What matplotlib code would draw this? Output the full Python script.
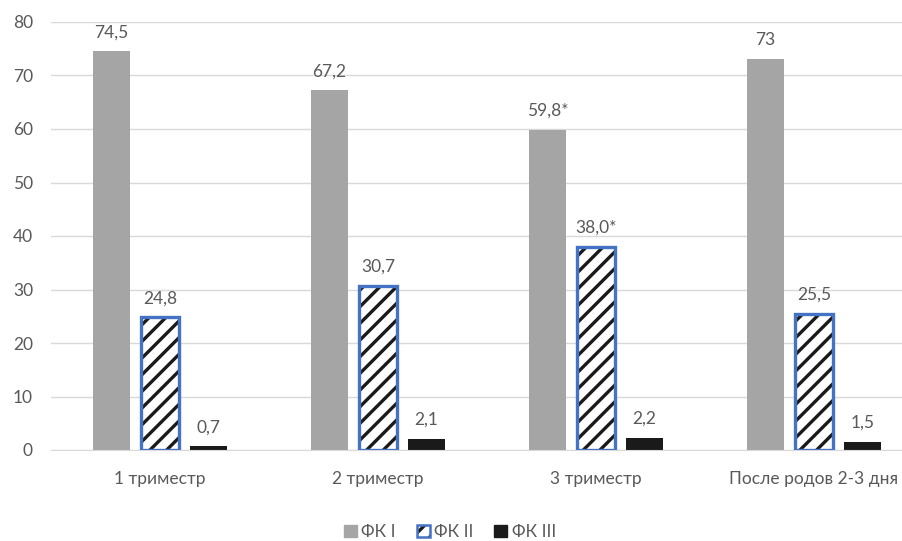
import matplotlib
matplotlib.use("Agg")
import matplotlib.pyplot as plt
import numpy as np
from matplotlib.patches import Patch
from matplotlib.legend_handler import HandlerTuple

plt.rcParams['font.family'] = ['Lato', 'Noto Sans', 'DejaVu Sans']
plt.rcParams['hatch.linewidth'] = 2.4

categories = ["1 триместр", "2 триместр", "3 триместр", "После родов 2-3 дня"]
series_names = ["ФК I", "ФК II", "ФК III"]
fk1 = [74.5, 67.2, 59.8, 73.0]
fk2 = [24.8, 30.7, 38.0, 25.5]
fk3 = [0.7, 2.1, 2.2, 1.5]
fk1_labels = ["74,5", "67,2", "59,8*", "73"]
fk2_labels = ["24,8", "30,7", "38,0*", "25,5"]
fk3_labels = ["0,7", "2,1", "2,2", "1,5"]
yticks = [0, 10, 20, 30, 40, 50, 60, 70, 80]

W, H = 903, 541
fig = plt.figure(figsize=(W / 100, H / 100), dpi=100)
ax = fig.add_axes([51 / W, (H - 450) / H, 872 / W, 428 / H])

x = np.arange(len(categories))
bw = 0.17
step = 0.222
txt = '#595959'
fs = 12.5

b1 = ax.bar(x - step, fk1, bw, color='#A5A5A5', zorder=2)
# hatched fill (black stripes), then the blue outline on top
ax.bar(x, fk2, bw, facecolor='white', edgecolor='#1a1a1a', linewidth=0,
       hatch='//', zorder=2)
b2 = ax.bar(x, fk2, bw, fill=False, edgecolor='#4472C4', linewidth=2.4, zorder=3)
b3 = ax.bar(x + step, fk3, bw, color='#1a1a1a', zorder=2)

for bars, labels in ((b1, fk1_labels), (b2, fk2_labels), (b3, fk3_labels)):
    for rect, lab in zip(bars, labels):
        ax.annotate(lab, (rect.get_x() + rect.get_width() / 2, rect.get_height()),
                    xytext=(0, 8), textcoords='offset points', ha='center',
                    va='bottom', fontsize=fs, color=txt)

ax.set_xlim(-0.5, len(categories) - 0.5)
ax.set_ylim(0, 80)
ax.set_yticks(yticks)
ax.set_xticks(x)
ax.set_xticklabels(categories)
ax.tick_params(axis='both', length=0, labelsize=fs, labelcolor=txt)
ax.tick_params(axis='x', pad=15)
ax.tick_params(axis='y', pad=13)
ax.grid(axis='y', color='#D9D9D9', linewidth=1, zorder=0)
for s in ('top', 'right', 'left'):
    ax.spines[s].set_visible(False)
ax.spines['bottom'].set_color('#D9D9D9')
ax.set_axisbelow(True)

h1 = Patch(facecolor='#A5A5A5', edgecolor='#A5A5A5')
h2 = (Patch(facecolor='white', edgecolor='#1a1a1a', hatch='//', linewidth=0),
      Patch(fill=False, edgecolor='#4472C4', linewidth=1.8))
h3 = Patch(facecolor='#1a1a1a', edgecolor='#1a1a1a')
fig.legend([h1, h2, h3], series_names, loc='center', bbox_to_anchor=(450 / W, 1 - 532 / H),
           ncol=3, frameon=False, fontsize=fs, handlelength=0.75, handleheight=0.75,
           handletextpad=0.25, columnspacing=1.2, labelcolor=txt,
           handler_map={tuple: HandlerTuple(ndivide=1, pad=0)})

fig.savefig('out.png', dpi=100)
